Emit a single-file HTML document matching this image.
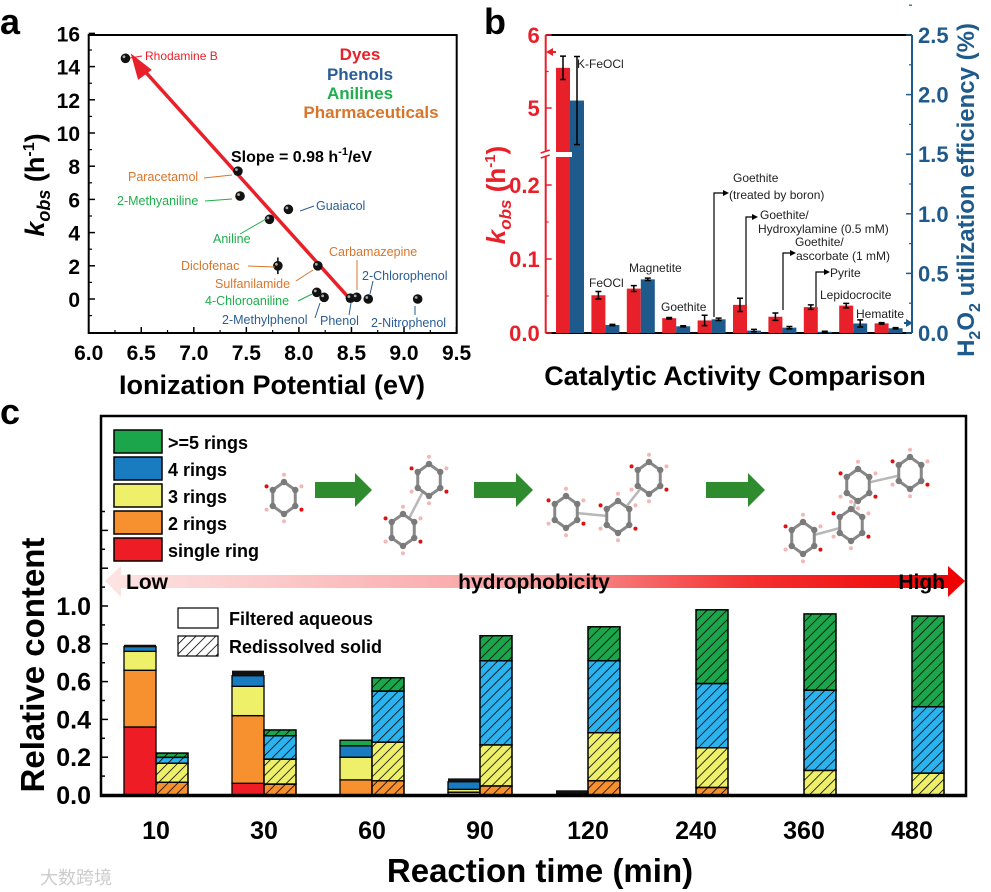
<!DOCTYPE html>
<html><head><meta charset="utf-8">
<style>
html,body{margin:0;padding:0;background:#fff;}
svg{display:block;font-family:"Liberation Sans",Arial,sans-serif;}
</style></head>
<body>
<svg id="fig" width="991" height="892" viewBox="0 0 991 892" xmlns="http://www.w3.org/2000/svg">
<defs>
  <pattern id="hatch" width="7" height="7" patternUnits="userSpaceOnUse" patternTransform="rotate(45)">
    <line x1="0" y1="0" x2="0" y2="7" stroke="#000" stroke-width="1.6"/>
  </pattern>
  <linearGradient id="hgrad" x1="0" x2="1" y1="0" y2="0">
    <stop offset="0" stop-color="#fde4e4"/>
    <stop offset="0.5" stop-color="#f9a0a0"/>
    <stop offset="0.75" stop-color="#f43030"/>
    <stop offset="1" stop-color="#ee0000"/>
  </linearGradient>
</defs>

<text x="0" y="34" font-size="36" font-weight="bold">a</text>
<text x="484" y="34" font-size="36" font-weight="bold">b</text>
<text x="0" y="424" font-size="36" font-weight="bold">c</text>

<g id="pa"></g>
<g id="pb"></g>
<g id="pc"></g>
</svg>

<script>
// ---------- Panel a data ----------
const aNames = ["Rhodamine B","Paracetamol","2-Methyaniline","Guaiacol","Aniline","Diclofenac","Sulfanilamide","4-Chloroaniline","2-Methylphenol","Phenol","Carbamazepine","2-Chlorophenol","2-Nitrophenol"];
const aIP = [6.35,7.42,7.44,7.9,7.72,7.8,8.18,8.17,8.24,8.49,8.55,8.66,9.13];
const aK = [14.5,7.7,6.2,5.4,4.8,2.0,2.0,0.4,0.1,0.05,0.1,0.0,0.0];
const aXTicks = [6.0,6.5,7.0,7.5,8.0,8.5,9.0,9.5];
const aYTicks = [0,2,4,6,8,10,12,14,16];

// ---------- Panel b data ----------
const bCats = ["K-FeOCl","FeOCl","Magnetite","Goethite","Goethite (boron)","Goethite/Hydroxylamine","Goethite/ascorbate","Pyrite","Lepidocrocite","Hematite"];
const bK = [5.55,0.051,0.060,0.020,0.017,0.038,0.022,0.035,0.037,0.013];
const bKerr = [0.16,0.005,0.004,0.001,0.007,0.009,0.005,0.003,0.003,0.001];
const bEff = [1.95,0.067,0.45,0.056,0.115,0.02,0.045,0.01,0.08,0.04];
const bEffErr = [0.37,0.005,0.01,0.005,0.01,0.01,0.01,0.005,0.03,0.005];
const bLeftTicks = [0.0,0.1,0.2,5,6];
const bRightTicks = [0.0,0.5,1.0,1.5,2.0,2.5];

// ---------- Panel c data ----------
const cTimes = ["10","30","60","90","120","240","360","480"];
const cSeries = ["single ring","2 rings","3 rings","4 rings",">=5 rings"];
const cFilt1 = [0.36,0.062,0.0,0.0,0.0,0,0,0];
const cFilt2 = [0.30,0.358,0.08,0.015,0.0,0,0,0];
const cFilt3 = [0.10,0.155,0.12,0.015,0.0,0,0,0];
const cFilt4 = [0.025,0.056,0.06,0.04,0.0,0,0,0];
const cFilt5 = [0.0,0.0,0.03,0.0,0.0,0,0,0];
const cFiltOther = [0.01,0.027,0.0,0.018,0.025,0,0,0];
const cSol1 = [0,0,0,0,0,0,0,0];
const cSol2 = [0.067,0.058,0.075,0.048,0.076,0.04,0.0,0.0];
const cSol3 = [0.101,0.132,0.205,0.217,0.254,0.21,0.13,0.116];
const cSol4 = [0.031,0.124,0.27,0.445,0.38,0.34,0.425,0.351];
const cSol5 = [0.023,0.03,0.07,0.133,0.18,0.39,0.403,0.48];
const cYTicks = [0.0,0.2,0.4,0.6,0.8,1.0];

const NS="http://www.w3.org/2000/svg";
function el(parent, tag, attrs, txt){
  const e=document.createElementNS(NS,tag);
  for(const k in attrs) e.setAttribute(k,attrs[k]);
  if(txt!==undefined) e.textContent=txt;
  parent.appendChild(e); return e;
}

// ===== Panel a =====
(function(){
  const g=document.getElementById('pa');
  const X=v=>88.7+(v-6.0)*105.1;
  const Y=v=>299-v*16.6;
  let f=el(g,'rect',{x:88.7,y:35,width:368,height:298,fill:'none',stroke:'#000','stroke-width':2});
  
  
  aXTicks.forEach((t,i)=>{
    el(g,'line',{x1:X(t),x2:X(t),y1:333,y2:327,stroke:'#000','stroke-width':1.5});
    if(i<aXTicks.length-1) el(g,'line',{x1:X(t+0.25),x2:X(t+0.25),y1:333,y2:330,stroke:'#000','stroke-width':1.2});
    let tx=el(g,'text',{x:X(t),y:360,'font-size':21,'font-weight':'bold','text-anchor':'middle'},t.toFixed(1));
    
    
  });
  aYTicks.forEach(t=>{
    el(g,'line',{x1:88.7,x2:95,y1:Y(t),y2:Y(t),stroke:'#000','stroke-width':1.5});
    el(g,'line',{x1:88.7,x2:92,y1:Y(t-1),y2:Y(t-1),stroke:'#000','stroke-width':1.2});
    let tx=el(g,'text',{x:80,y:Y(t)+8,'font-size':21,'font-weight':'bold','text-anchor':'end'},String(t));
    
    
  });
  let xt=el(g,'text',{x:272,y:394,'font-size':27,'font-weight':'bold','text-anchor':'middle'},'Ionization Potential (eV)');
  
  
  let yt=el(g,'text',{x:0,y:0,'font-size':27,'font-weight':'bold','text-anchor':'middle',transform:'translate(44,185) rotate(-90)'});
  
  
  yt.innerHTML='<tspan font-style="italic">k</tspan><tspan font-size="18" dy="6" font-style="italic">obs</tspan><tspan dy="-6"> (h</tspan><tspan font-size="16" dy="-10">-1</tspan><tspan dy="10">)</tspan>';
  let ar=el(g,'line',{x1:X(8.5),y1:Y(-0.1),x2:X(6.48),y2:Y(14.1),stroke:'#e8202a','stroke-width':3.5});
  
  
  el(g,'polygon',{points:`${X(6.4)},${Y(14.8)} ${X(6.47)},${Y(13.2)} ${X(6.6)},${Y(13.8)}`,fill:'#e8202a'});
  aIP.forEach((v,i)=>{
    if(i===5) el(g,'line',{x1:X(v),x2:X(v),y1:Y(aK[i]+0.5),y2:Y(aK[i]-0.5),stroke:'#000','stroke-width':1.5});
    let c=el(g,'circle',{cx:X(v),cy:Y(aK[i]),r:4.8,fill:'#111'});
    
    
    el(g,'circle',{cx:X(v)-1.5,cy:Y(aK[i])-1.5,r:1.4,fill:'#aaa'});
  });
  const red='#e8202a',blue='#2a5d95',green='#1fae4b',orange='#d9752a';
  const labs=[
    ['Rhodamine B',145,60,red,'start',12],
    ['Paracetamol',128,181,orange,'start',12.5],
    ['2-Methyaniline',117,205,green,'start',12.5],
    ['Guaiacol',316,210,blue,'start',12.5],
    ['Aniline',213,243,green,'start',12.5],
    ['Diclofenac',181,270,orange,'start',12.5],
    ['Sulfanilamide',215,288,orange,'start',12.5],
    ['4-Chloroaniline',205,305,green,'start',12.5],
    ['2-Methylphenol',222,324,blue,'start',12.5],
    ['Phenol',320,325,blue,'start',12.5],
    ['Carbamazepine',329,256,orange,'start',12.5],
    ['2-Chlorophenol',362,280,blue,'start',12.5],
    ['2-Nitrophenol',371,327,blue,'start',12.5]];
  labs.forEach(l=>{
    let t=el(g,'text',{x:l[1],y:l[2],'font-size':l[5],fill:l[3],'text-anchor':l[4]},l[0]);
    
    
  });
  const lead=[[142,56,130,58,red],[204,178,232,175,orange],[205,201,232,199,green],[314,206,300,211,blue],[240,234,266,219,green],[248,266,275,267,orange],[296,281,313,270,orange],[298,301,312,294,green],[315,318,320,303,blue],[349,315,351,303,blue],[357,260,357,290,orange],[373,281,370,294,blue],[415,315,415,306,blue]];
  lead.forEach(l=>el(g,'line',{x1:l[0],y1:l[1],x2:l[2],y2:l[3],stroke:l[4],'stroke-width':1}));
  [['Dyes',red,60],['Phenols',blue,80],['Anilines',green,99],['Pharmaceuticals',orange,118]].forEach(c=>{
    let t=el(g,'text',{x:c[0]==='Pharmaceuticals'?371:360,y:c[2],'font-size':17,'font-weight':'bold',fill:c[1],'text-anchor':'middle'},c[0]);
    
    
  });
  let sl=el(g,'text',{x:231,y:162,'font-size':16,'font-weight':'bold'});
  
  
  sl.innerHTML='Slope = 0.98 h<tspan font-size="11" dy="-7">-1</tspan><tspan dy="7">/eV</tspan>';
})();

// ===== Panel b =====
(function(){
  const g=document.getElementById('pb');
  const L=545.7,R=912,T=35,B=333;
  const YK=v=> v<=0.24 ? B-v*740 : 108-(v-5)*73;
  const YE=v=> B-v*119.2;
  const red='#e8202a',blue='#1f5a8c';
  const cx=i=>570+i*35.4;
  el(g,'line',{x1:L,x2:R,y1:T,y2:T,stroke:'#000','stroke-width':2});
  el(g,'line',{x1:L,x2:R,y1:B,y2:B,stroke:'#000','stroke-width':2});
  let la=el(g,'line',{x1:L,x2:L,y1:T,y2:B,stroke:red,'stroke-width':2});
  
  
  let ra=el(g,'line',{x1:R,x2:R,y1:T,y2:B,stroke:blue,'stroke-width':2});
  
  
  bLeftTicks.forEach(t=>{
    el(g,'line',{x1:L,x2:L+6,y1:YK(t),y2:YK(t),stroke:red,'stroke-width':1.5});
    let tx=el(g,'text',{x:L-6,y:YK(t)+8,'font-size':22,'font-weight':'bold',fill:red,'text-anchor':'end'},t<1?t.toFixed(1):String(t));
    
    
  });
  [0.05,0.15,5.5].forEach(t=>el(g,'line',{x1:L,x2:L+3,y1:YK(t),y2:YK(t),stroke:red,'stroke-width':1.2}));
  bRightTicks.forEach(t=>{
    el(g,'line',{x1:R,x2:R-6,y1:YE(t),y2:YE(t),stroke:blue,'stroke-width':1.5});
    el(g,'line',{x1:R,x2:R-3,y1:YE(t+0.25),y2:YE(t+0.25),stroke:blue,'stroke-width':1.2});
    let tx=el(g,'text',{x:R+6,y:YE(t)+8,'font-size':22,'font-weight':'bold',fill:blue},t.toFixed(1));
    
    
  });
  bCats.forEach((c,i)=>{
    const x=cx(i);
    let r=el(g,'rect',{x:x-14,y:YK(bK[i]),width:14,height:B-YK(bK[i]),fill:red});
    
    
    let b=el(g,'rect',{x:x,y:YE(bEff[i]),width:14,height:B-YE(bEff[i]),fill:blue});
    
    
    const kr=x-7, kt=YK(bK[i]+bKerr[i]), kb=YK(bK[i]-bKerr[i]);
    el(g,'path',{d:`M${kr},${kt}V${kb}M${kr-3},${kt}h6M${kr-3},${kb}h6`,stroke:'#000','stroke-width':1.5,fill:'none'});
    const er=x+7, et=YE(bEff[i]+bEffErr[i]), eb=YE(Math.max(0,bEff[i]-bEffErr[i]));
    el(g,'path',{d:`M${er},${et}V${eb}M${er-3},${et}h6M${er-3},${eb}h6`,stroke:'#000','stroke-width':1.5,fill:'none'});
  });
  el(g,'rect',{x:L-8,y:152,width:cx(0)-L+10,height:5,fill:'#fff'});
  el(g,'path',{d:`M${L-5},153l9,-3M${L-5},158l9,-3`,stroke:red,'stroke-width':1.5});
  el(g,'path',{d:'M556,52H548',stroke:red,'stroke-width':2});
  el(g,'polygon',{points:'546,52 553,48 553,56',fill:red});
  el(g,'path',{d:'M904,323H912',stroke:blue,'stroke-width':2});
  el(g,'polygon',{points:'913,323 906,319 906,327',fill:blue});
  const ann=[['K-FeOCl',577,68],['FeOCl',589,287],['Magnetite',629,272],['Goethite',661,311],['Goethite',733,182],['(treated by boron)',729,199],['Goethite/',760,219],['Hydroxylamine (0.5 mM)',758,233],['Goethite/',795,246],['ascorbate (1 mM)',796,260],['Pyrite',830,277],['Lepidocrocite',820,299],['Hematite',856,318]];
  ann.forEach(a=>{
    let t=el(g,'text',{x:a[1],y:a[2],'font-size':12,fill:'#222'},a[0]);
    
    
  });
  [[714,317,193,729],[746,305,217,758],[783,310,253,796],[816,307,272,830]].forEach(a=>{
    el(g,'path',{d:`M${a[0]},${a[1]}V${a[2]}H${a[3]-2}`,stroke:'#000','stroke-width':1.2,fill:'none'});
    el(g,'polygon',{points:`${a[3]},${a[2]} ${a[3]-6},${a[2]-3} ${a[3]-6},${a[2]+3}`,fill:'#000'});
  });
  let xt=el(g,'text',{x:735,y:385,'font-size':27,'font-weight':'bold','text-anchor':'middle'},'Catalytic Activity Comparison');
  
  
  let yl=el(g,'text',{x:0,y:0,'font-size':26,'font-weight':'bold',fill:red,'text-anchor':'middle',transform:'translate(505,195) rotate(-90)'});
  
  
  yl.innerHTML='<tspan font-style="italic">k</tspan><tspan font-size="17" dy="6" font-style="italic">obs</tspan><tspan dy="-6"> (h</tspan><tspan font-size="15" dy="-10">-1</tspan><tspan dy="10">)</tspan>';
  let yr=el(g,'text',{x:0,y:0,'font-size':24,'font-weight':'bold',fill:blue,'text-anchor':'middle',transform:'translate(974,190) rotate(-90)'});
  
  
  yr.innerHTML='H<tspan font-size="16" dy="6">2</tspan><tspan dy="-6">O</tspan><tspan font-size="16" dy="6">2</tspan><tspan dy="-6"> utilization efficiency (%)</tspan>';
})();

// ===== Panel c =====
(function(){
  const g=document.getElementById('pc');
  const L=101,R=966,T=416,B=796;
  const Y=v=>795-v*189;
  const colors=['#ee1c25','#f7902f','#eef06a','#1a7cc0','#1ba64b'];
  const solidColors=['#ee1c25','#f7902f','#eef06a','#2bb3ef','#1ba64b'];
  const gx=i=>156+i*108;
  let fr=el(g,'rect',{x:L,y:T,width:R-L,height:B-T,fill:'none',stroke:'#000','stroke-width':2.5});
  
  
  for(let k=-1;k<=15;k++){
    const v=k*0.1; const y=Y(v);
    if(y<T+5||y>B) continue;
    el(g,'line',{x1:L,x2:L+(k%2===0?7:4),y1:y,y2:y,stroke:'#000','stroke-width':1.5});
  }
  cYTicks.forEach(t=>{
    let tx=el(g,'text',{x:91,y:Y(t)+9,'font-size':25,'font-weight':'bold','text-anchor':'end'},t.toFixed(1));
    
    
  });
  cTimes.forEach((t,i)=>{
    let tx=el(g,'text',{x:gx(i),y:839,'font-size':25,'font-weight':'bold','text-anchor':'middle'},t);
    
    
  });
  let xt=el(g,'text',{x:540,y:882,'font-size':33,'font-weight':'bold','text-anchor':'middle'},'Reaction time (min)');
  
  
  let yt=el(g,'text',{x:0,y:0,'font-size':33,'font-weight':'bold','text-anchor':'middle',transform:'translate(44,665) rotate(-90)'},'Relative content');
  
  

  const filt=[cFilt1,cFilt2,cFilt3,cFilt4,cFilt5];
  const sol=[cSol1,cSol2,cSol3,cSol4,cSol5];
  cTimes.forEach((t,i)=>{
    let base=0;
    const x=gx(i)-32;
    filt.forEach((s,j)=>{
      if(s[i]<=0) return;
      let r=el(g,'rect',{x:x,y:Y(base+s[i]),width:32,height:s[i]*189,fill:colors[j],stroke:'#000','stroke-width':1.3});
      
      
      base+=s[i];
    });
    if(cFiltOther[i]>0){
      let r=el(g,'rect',{x:x,y:Y(base+cFiltOther[i]),width:32,height:cFiltOther[i]*189,fill:'#111'});
      
      
    }
    base=0;
    const xs=gx(i);
    sol.forEach((s,j)=>{
      if(s[i]<=0) return;
      let r=el(g,'rect',{x:xs,y:Y(base+s[i]),width:32,height:s[i]*189,fill:solidColors[j],stroke:'#000','stroke-width':1.3});
      
      
      el(g,'rect',{x:xs,y:Y(base+s[i]),width:32,height:s[i]*189,fill:'url(#hatch)',stroke:'#000','stroke-width':1.3});
      base+=s[i];
    });
  });
  el(g,'line',{x1:L,x2:R,y1:B-1,y2:B-1,stroke:'#000','stroke-width':2.5});

  const ly=[430,457,484,511,538];
  const lorder=[4,3,2,1,0];
  lorder.forEach((j,k)=>{
    let b=el(g,'rect',{x:114,y:ly[k],width:48,height:23,fill:colors[j],stroke:'#000','stroke-width':1.5});
    
    
    let t=el(g,'text',{x:168,y:ly[k]+19,'font-size':18,'font-weight':'bold'},cSeries[j]);
    
    
  });
  let b1=el(g,'rect',{x:178,y:608,width:40,height:20,fill:'#fff',stroke:'#000','stroke-width':1.2});
  
  
  let b2=el(g,'rect',{x:178,y:636,width:40,height:20,fill:'url(#hatch)',stroke:'#000','stroke-width':1.2});
  
  
  let t1=el(g,'text',{x:229,y:625,'font-size':18,'font-weight':'bold'},'Filtered aqueous');
  
  
  let t2=el(g,'text',{x:229,y:653,'font-size':18,'font-weight':'bold'},'Redissolved solid');
  
  

  let ha=el(g,'path',{d:'M105,581 L121,566 L121,575 L948,575 L948,566 L965,581 L948,597 L948,588 L121,588 L121,597 Z',fill:'url(#hgrad)'});
  
  
  let lo=el(g,'text',{x:126,y:589,'font-size':21,'font-weight':'bold'},'Low');
  
  
  let hy=el(g,'text',{x:534,y:589,'font-size':21,'font-weight':'bold','text-anchor':'middle'},'hydrophobicity');
  
  
  let hi=el(g,'text',{x:945,y:589,'font-size':21,'font-weight':'bold','text-anchor':'end'},'High');
  
  

  [[315,372],[474,533],[706,765]].forEach(a=>{
    let p=el(g,'path',{d:`M${a[0]},482 H${a[1]-17} V473 L${a[1]},490 L${a[1]-17},507 V498 H${a[0]} Z`,fill:'#2e8b2e'});
    
    
  });
  const mols=[[[284,498]],[[429,480],[403,530]],[[649,478],[618,517],[566,512]],[[910,473],[858,485],[851,525],[803,538]]];
  mols.forEach((m,mi)=>{
    const mg=el(g,'g',{});
    
    
    for(let ri=1;ri<m.length;ri++){const a=m[ri-1],b=m[ri];el(mg,'line',{x1:a[0],y1:a[1],x2:b[0],y2:b[1],stroke:'#888','stroke-width':2.5,'stroke-opacity':0.6});}
    m.forEach((c)=>{
      const pts=[];
      for(let k=0;k<6;k++){const an=Math.PI/6+k*Math.PI/3;pts.push([c[0]+13*Math.cos(an),c[1]+16*Math.sin(an)]);}
      el(mg,'polygon',{points:pts.map(p=>p.join(',')).join(' '),fill:'#fff',stroke:'#888','stroke-width':3});
      pts.forEach(p=>el(mg,'circle',{cx:p[0],cy:p[1],r:3.2,fill:'#7a7a7a'}));
      pts.forEach((p,k)=>{const dx=p[0]-c[0],dy=p[1]-c[1];el(mg,'circle',{cx:c[0]+dx*1.55,cy:c[1]+dy*1.45,r:2,fill:k%3===0?'#e01010':'#f2b8b8'});});
    });
  });
  let wm=el(g,'text',{x:40,y:884,'font-size':18,fill:'#ccc','font-family':'"Liberation Sans","Noto Sans CJK SC",sans-serif'},'大数跨境');
  
  
})();
</script>
</body></html>
